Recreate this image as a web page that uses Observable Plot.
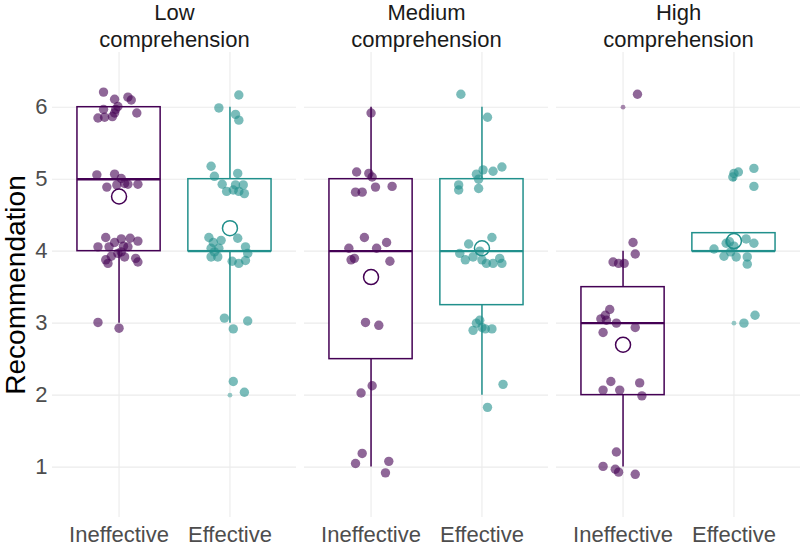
<!DOCTYPE html>
<html><head><meta charset="utf-8">
<script src="https://cdn.jsdelivr.net/npm/d3@7"></script>
<script src="https://cdn.jsdelivr.net/npm/@observablehq/plot@0.6"></script>
<style>body{margin:0;background:#fff;font-family:"Liberation Sans",Arial,sans-serif;}</style>
</head><body><div id="chart"></div>
<script>
const facets = ["Low comprehension", "Medium comprehension", "High comprehension"];
const facetLabels = ["Low\ncomprehension", "Medium\ncomprehension", "High\ncomprehension"];
const groups = ["Ineffective", "Effective"];
const groupColors = ["#440154", "#21908C"];
const yTicks = [1, 2, 3, 4, 5, 6];

// Box statistics, order: Low-Ineffective, Low-Effective, Medium-Ineffective, Medium-Effective, High-Ineffective, High-Effective
const boxFacet = [0, 0, 1, 1, 2, 2];
const boxGroup = [0, 1, 0, 1, 0, 1];
const boxQ1 = [4, 4, 2.5, 3.25, 2, 4];
const boxMedian = [5, 4, 4, 4, 3, 4];
const boxQ3 = [6, 5, 5, 5, 3.5, 4.25];
const whiskerLow = [3, 3, 1, 2, 1, 4];
const whiskerHigh = [6, 6, 6, 6, 4, 4.25];
const groupMean = [4.76, 4.32, 3.64, 4.04, 2.70, 4.14];

// Boxplot outliers
const outlierFacet = [0, 2, 2, 2];
const outlierGroup = [1, 0, 1, 1];
const outlierValue = [2, 6, 3, 5];

// Jittered observations (value as drawn, horizontal jitter in category units)
const lowIneffValue = [6.21, 6.11, 6.14, 6.10, 5.97, 5.97, 6.01, 5.92, 5.85, 5.86, 5.87, 5.92,
  5.06, 5.07, 5.01, 4.94, 4.89, 4.92, 4.93, 4.93,
  4.19, 4.12, 4.17, 4.18, 4.14, 4.06, 4.06, 4.07, 4.06, 3.99, 3.93, 3.88, 3.83, 3.92, 3.90, 3.85, 3.97,
  3.01, 2.93];
const lowIneffJitter = [-0.14, -0.04, 0.08, 0.11, -0.14, -0.03, -0.01, 0.16, -0.19, -0.13, -0.06, -0.04,
  -0.20, -0.04, 0.02, 0.05, -0.11, -0.02, 0.08, 0.17,
  -0.12, -0.04, 0.02, 0.10, 0.17, -0.19, -0.09, 0.04, 0.08, 0.02, -0.07, -0.12, -0.10, 0.05, 0.15, 0.17, -0.01,
  -0.19, 0.00];
const lowEffValue = [6.17, 5.99, 5.90, 5.82,
  5.18, 5.04, 4.93, 4.83, 5.08, 4.92, 4.92, 4.83, 4.80, 4.85,
  4.19, 4.12, 4.15, 4.04, 4.04, 4.18, 4.06, 3.97, 3.92, 3.92, 3.86, 3.83, 3.87, 3.99,
  3.07, 2.92, 3.03, 2.19, 2.04];
const lowEffJitter = [0.08, -0.10, 0.05, 0.08,
  -0.17, -0.14, -0.07, -0.03, 0.07, 0.05, 0.12, 0.08, 0.13, 0.03,
  -0.19, -0.15, -0.08, -0.17, -0.10, 0.07, 0.14, 0.16, -0.17, -0.11, 0.02, 0.08, 0.14, -0.14,
  -0.05, 0.03, 0.16, 0.03, 0.13];
const medIneffValue = [5.92, 5.10, 5.08, 5.03, 4.82, 4.82, 4.89, 4.90,
  4.19, 4.12, 4.04, 4.04, 3.88, 3.90, 3.86,
  3.01, 2.97, 2.13, 2.03, 1.19, 1.05, 1.08, 0.92];
const medIneffJitter = [0.00, -0.13, -0.02, 0.01, -0.14, -0.08, 0.04, 0.19,
  -0.06, 0.14, -0.20, 0.05, -0.18, -0.15, 0.17,
  -0.05, 0.07, 0.01, -0.09, -0.08, -0.14, 0.16, 0.13];
const medEffValue = [6.18, 5.86,
  5.07, 5.13, 5.11, 5.17, 5.00, 4.92, 4.85, 4.87,
  4.19, 4.10, 3.97, 3.88, 3.92, 3.88, 3.83, 3.83, 3.90, 3.83, 4.00,
  3.04, 2.90, 2.94, 2.92, 2.92, 3.00, 2.15, 1.83];
const medEffJitter = [-0.19, 0.05,
  -0.05, 0.01, 0.10, 0.18, -0.03, -0.21, -0.21, -0.03,
  0.09, -0.12, -0.20, -0.15, -0.08, 0.00, 0.04, 0.10, 0.16, 0.18, -0.02,
  -0.02, -0.08, 0.00, 0.03, 0.09, -0.05, 0.19, 0.05];
const highIneffValue = [6.18, 4.12, 3.96, 3.85, 3.83, 3.83,
  3.19, 3.11, 3.06, 3.04, 3.00, 2.94, 2.87,
  2.19, 2.17, 2.07, 2.07, 1.99,
  1.21, 1.01, 0.97, 0.93, 0.90];
const highIneffJitter = [0.13, 0.09, 0.11, -0.09, -0.04, 0.01,
  -0.12, -0.16, -0.20, -0.15, -0.06, 0.11, -0.18,
  -0.11, 0.15, -0.18, -0.03, 0.17,
  -0.06, -0.18, -0.07, -0.04, 0.11];
const highEffValue = [5.08, 5.10, 5.03, 5.15, 4.90,
  4.03, 4.11, 4.13, 4.17, 4.11, 3.93, 3.92, 3.92, 3.82, 3.99, 4.07,
  3.00, 3.11];
const highEffJitter = [0.00, 0.04, -0.01, 0.18, 0.18,
  -0.18, -0.07, -0.04, 0.11, 0.18, -0.09, 0.02, 0.12, 0.12, -0.03, 0.00,
  0.09, 0.19];

const series = [
  [0, 0, lowIneffValue, lowIneffJitter],
  [0, 1, lowEffValue, lowEffJitter],
  [1, 0, medIneffValue, medIneffJitter],
  [1, 1, medEffValue, medEffJitter],
  [2, 0, highIneffValue, highIneffJitter],
  [2, 1, highEffValue, highEffJitter]
];
const points = series.flatMap(([f, g, vals, jit]) =>
  vals.map((v, i) => ({facet: facets[f], group: groups[g], pos: g + 1 + jit[i], value: v})));
const boxes = boxFacet.map((f, i) => ({
  facet: facets[f], group: groups[boxGroup[i]], pos: boxGroup[i] + 1,
  q1: boxQ1[i], median: boxMedian[i], q3: boxQ3[i], lo: whiskerLow[i], hi: whiskerHigh[i], mean: groupMean[i]
}));
const outliers = outlierFacet.map((f, i) => ({
  facet: facets[f], group: groups[outlierGroup[i]], pos: outlierGroup[i] + 1, value: outlierValue[i]
}));

const half = 0.375;
const chart = Plot.plot({
  width: 800, height: 546,
  marginLeft: 51, marginRight: 0, marginTop: 52, marginBottom: 29,
  style: {fontFamily: "'Liberation Sans', Arial, sans-serif", background: "white"},
  fx: {domain: facets, paddingInner: 0.033, paddingOuter: 0, label: null},
  x: {domain: [0.4, 2.6], label: null},
  y: {domain: [0.3, 6.76], label: null},
  color: {domain: groups, range: groupColors},
  marks: [
    Plot.gridY(yTicks, {stroke: "#EBEBEB", strokeOpacity: 1, strokeWidth: 1.1}),
    Plot.gridX([1, 2], {stroke: "#EBEBEB", strokeOpacity: 1, strokeWidth: 1.1}),
    Plot.axisFx({anchor: "top", tickSize: 0, tickPadding: 6, fontSize: 22, lineHeight: 1.2,
      tickFormat: d => facetLabels[facets.indexOf(d)], fill: "#1a1a1a", label: null}),
    Plot.axisY(yTicks, {tickSize: 0, tickPadding: 5, fontSize: 22, fill: "#4D4D4D", label: null,
      tickFormat: d => String(d)}),
    Plot.axisX([1, 2], {tickSize: 0, tickPadding: 9, fontSize: 22, fill: "#4D4D4D", label: null,
      tickFormat: d => groups[d - 1]}),
    Plot.text(["Recommendation"], {fx: () => facets[0], frameAnchor: "left", dx: -36, rotate: -90,
      textAnchor: "middle", lineAnchor: "middle", text: d => d, fontSize: 28, fill: "black"}),
    // whiskers
    Plot.ruleX(boxes, {fx: "facet", x: "pos", y1: "q3", y2: "hi", stroke: "group", strokeWidth: 1.5}),
    Plot.ruleX(boxes, {fx: "facet", x: "pos", y1: "lo", y2: "q1", stroke: "group", strokeWidth: 1.5}),
    // boxes
    Plot.rect(boxes, {fx: "facet", x1: d => d.pos - half, x2: d => d.pos + half, y1: "q1", y2: "q3",
      fill: "white", stroke: "group", strokeWidth: 1.5}),
    Plot.ruleY(boxes, {fx: "facet", x1: d => d.pos - half, x2: d => d.pos + half, y: "median",
      stroke: "group", strokeWidth: 2.4}),
    // outliers
    Plot.dot(outliers, {fx: "facet", x: "pos", y: "value", r: 2.4, fill: "group", fillOpacity: 0.45, stroke: "none"}),
    // jittered points
    Plot.dot(points, {fx: "facet", x: "pos", y: "value", r: 4.7, fill: "group", fillOpacity: 0.6, stroke: "none"}),
    // means
    Plot.dot(boxes, {fx: "facet", x: "pos", y: "mean", r: 7.5, fill: "none", stroke: "group", strokeWidth: 1.5})
  ]
});
document.getElementById("chart").appendChild(chart);
</script>
</body></html>
